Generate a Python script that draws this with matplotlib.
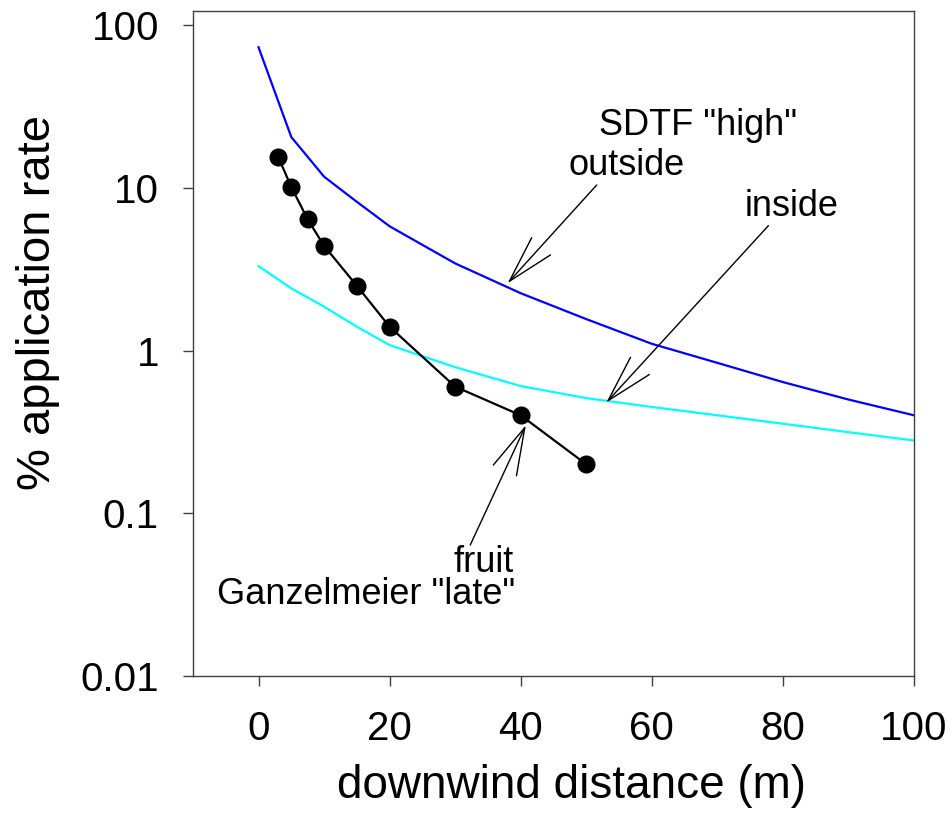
import matplotlib
matplotlib.use('Agg')
import matplotlib.pyplot as plt
from matplotlib.patches import ArrowStyle

plt.rcParams['font.family'] = ['Liberation Sans', 'DejaVu Sans']

# SDTF "high" curves (outside / inside)
dist_sdtf = [0, 5, 10, 15, 20, 30, 40, 50, 60, 70, 80, 90, 100]
sdtf_outside = [73, 20.5, 11.7, 8.2, 5.8, 3.43, 2.25, 1.56, 1.1, 0.84, 0.64, 0.5, 0.4]
sdtf_inside = [3.3, 2.41, 1.86, 1.40, 1.08, 0.79, 0.605, 0.51, 0.45, 0.40, 0.355, 0.315, 0.28]

# Ganzelmeier "late" fruit
dist_ganz = [3, 5, 7.5, 10, 15, 20, 30, 40, 50]
ganz_fruit = [15.5, 10.1, 6.4, 4.4, 2.5, 1.4, 0.6, 0.4, 0.2]

xticks = [0, 20, 40, 60, 80, 100]
yticks = [0.01, 0.1, 1, 10, 100]
ytick_labels = ['0.01', '0.1', '1', '10', '100']

fig = plt.figure(figsize=(9.53, 8.31), dpi=100)
ax = fig.add_axes([0.2025, 0.1865, 0.7565, 0.8003])

ax.plot(dist_sdtf, sdtf_outside, color='#0000ff', lw=1.6)
ax.plot(dist_sdtf, sdtf_inside, color='#00ffff', lw=1.6)
ax.plot(dist_ganz, ganz_fruit, color='black', lw=1.6, marker='o', ms=12)

ax.set_yscale('log')
ax.set_xlim(-10, 100)
ax.set_ylim(0.01, 122)
ax.set_xticks(xticks)
ax.set_yticks(yticks)
ax.set_yticklabels(ytick_labels)
ax.minorticks_off()
ax.tick_params(labelsize=29, length=7.5, width=1.0, direction='out', pad=17,
               color='#404040')
for s in ax.spines.values():
    s.set_color('#404040')
    s.set_linewidth(1.0)

ax.set_xlabel('downwind distance (m)', fontsize=33)
ax.set_ylabel('% application rate', fontsize=34)
ax.xaxis.set_label_coords(0.525, -0.132)
ax.yaxis.set_label_coords(-0.1845, 0.561)

# labels: text, (x, y) left/baseline
ax.text(52.0, 21.1, 'SDTF "high"', fontsize=26, va='baseline')
ax.text(47.3, 12.0, 'outside', fontsize=26, va='baseline')
ax.text(74.1, 6.7, 'inside', fontsize=26, va='baseline')
ax.text(29.7, 0.0434, 'fruit', fontsize=26, va='baseline')
ax.text(-6.3, 0.0277, 'Ganzelmeier "late"', fontsize=26, va='baseline')

# arrows: tip, tail
arrows = [((38.0, 2.59), (51.6, 10.4)),
          ((53.05, 0.478), (77.8, 5.85)),
          ((40.8, 0.348), (32.3, 0.0638))]
head = ArrowStyle('->', head_length=1.0, head_width=0.27)
for tip, tail in arrows:
    ax.annotate('', xy=tip, xytext=tail,
                arrowprops=dict(arrowstyle=head, mutation_scale=34, lw=1.0,
                                color='black', shrinkA=0, shrinkB=0))

fig.savefig('out.png', dpi=100)
